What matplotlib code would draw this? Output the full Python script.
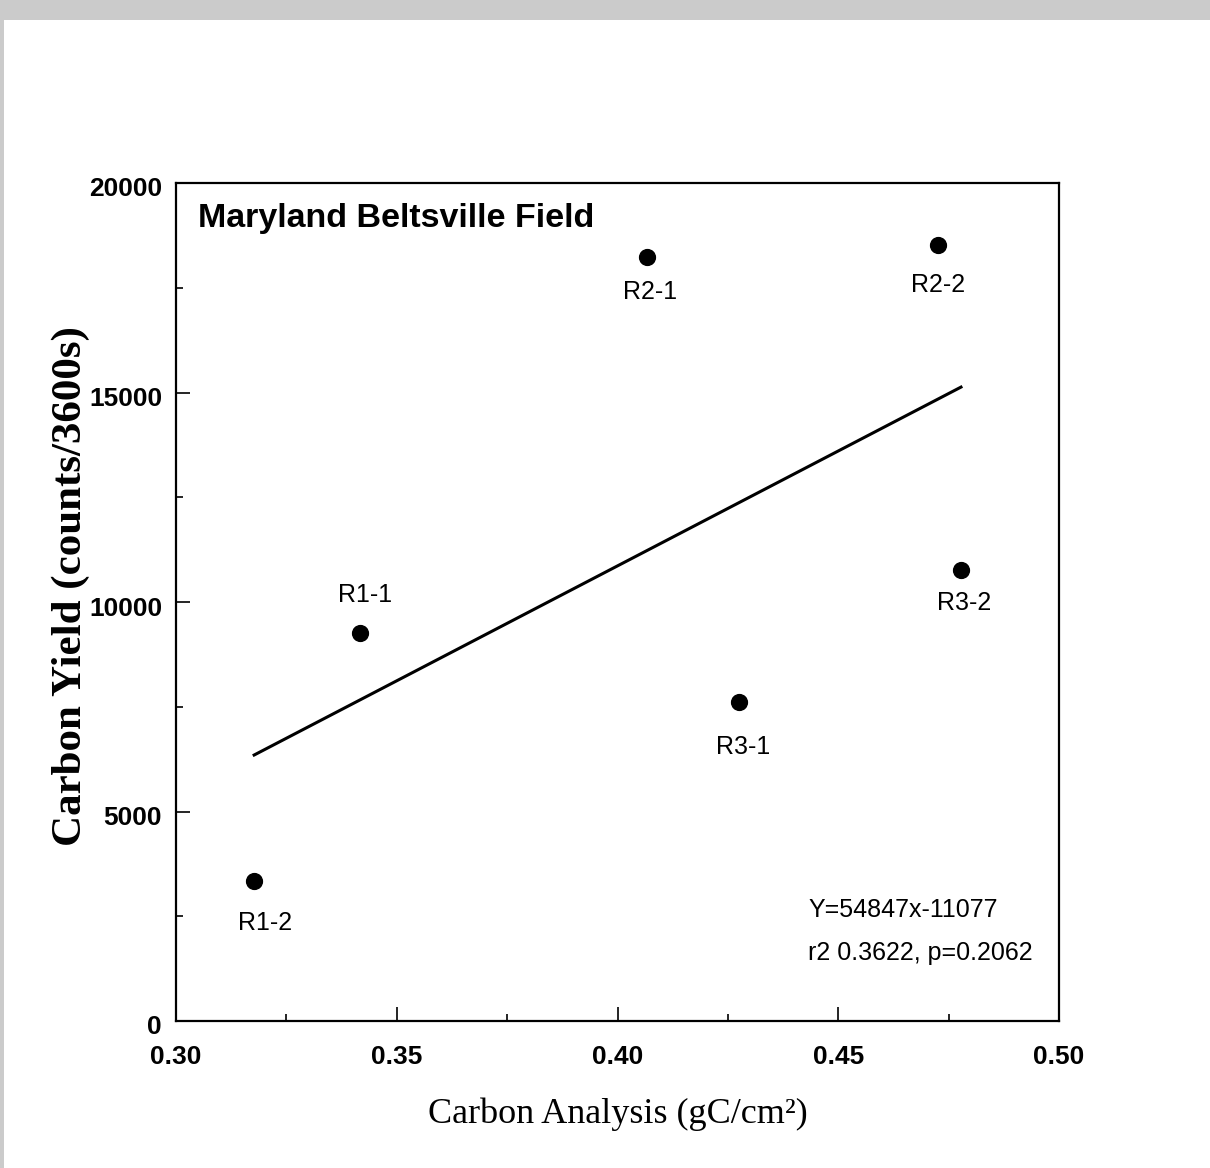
import matplotlib
matplotlib.use("Agg")
import matplotlib.pyplot as plt
import matplotlib.transforms as mtransforms
from matplotlib.patches import Rectangle
from matplotlib.ticker import MultipleLocator
import numpy as np

# ---- data ----
labels = ["R1-2", "R1-1", "R2-1", "R3-1", "R2-2", "R3-2"]
carbon_analysis = [0.3177, 0.3417, 0.4067, 0.4275, 0.4726, 0.4778]
carbon_yield = [3340, 9260, 18230, 7610, 18520, 10760]
slope = 54847
intercept = -11077
r2_text = "r2 0.3622, p=0.2062"
title = "Maryland Beltsville Field"
x_ticks = [0.30, 0.35, 0.40, 0.45, 0.50]
y_ticks = [0, 5000, 10000, 15000, 20000]

# label offsets in pixels (dx, dy downwards)
label_offsets = [(11, 42), (5, -38), (3, 35), (4, 45), (0, 40), (3, 33)]

W, H = 1210, 1168
fig = plt.figure(figsize=(W / 100, H / 100), dpi=100)
fig.patch.set_facecolor("white")
fig.patches.append(Rectangle((0, 1 - 20 / H), 1, 20 / H, transform=fig.transFigure,
                             facecolor="#cbcbcb", edgecolor="none", zorder=0))
fig.patches.append(Rectangle((0, 0), 4 / W, 1, transform=fig.transFigure,
                             facecolor="#cbcbcb", edgecolor="none", zorder=0))

ax = fig.add_axes([176 / W, 147 / H, (1059 - 176) / W, (1021 - 183) / H])

sans = ["Liberation Sans", "DejaVu Sans"]
serif = ["Liberation Serif", "DejaVu Serif"]

ax.scatter(carbon_analysis, carbon_yield, s=130, color="black", zorder=3)

xs = np.array([min(carbon_analysis), max(carbon_analysis)])
ax.plot(xs, slope * xs + intercept, color="black", lw=2.2, zorder=2)

for lab, x, y, (dx, dy) in zip(labels, carbon_analysis, carbon_yield, label_offsets):
    ax.annotate(lab, (x, y), xytext=(dx, -dy), textcoords="offset pixels",
                ha="center", va="center", fontsize=18, family=sans)

ax.set_xlim(0.30, 0.50)
ax.set_ylim(0, 20000)
ax.set_xticks(x_ticks)
ax.set_yticks(y_ticks)
ax.set_xticklabels([f"{t:.2f}" for t in x_ticks])
ax.set_yticklabels([str(t) for t in y_ticks])
ax.xaxis.set_minor_locator(MultipleLocator(0.025))
ax.yaxis.set_minor_locator(MultipleLocator(2500))
ax.tick_params(which="both", direction="in", top=False, right=False, width=1.2)
ax.tick_params(which="major", length=10)
ax.tick_params(which="minor", length=5)
ax.tick_params(axis="x", which="major", pad=17)
ax.tick_params(axis="y", which="major", pad=10)
shift_down = mtransforms.ScaledTranslation(0, -4 / 100, fig.dpi_scale_trans)
for t in ax.get_xticklabels() + ax.get_yticklabels():
    t.set_family(sans)
    t.set_fontweight("bold")
    t.set_fontsize(19)
for t in ax.get_yticklabels():
    t.set_transform(t.get_transform() + shift_down)
for s in ax.spines.values():
    s.set_linewidth(1.6)

ax.set_xlabel("Carbon Analysis (gC/cm²)", family=serif, fontsize=26, labelpad=21)
ax.set_ylabel("Carbon Yield (counts/3600s)", family=serif, fontsize=31,
              fontweight="bold")
ax.yaxis.set_label_coords(-0.097, 0.519)

ax.text(0.025, 0.958, title, transform=ax.transAxes, ha="left", va="center",
        fontsize=24.5, fontweight="bold", family=sans)
ax.text(0.716, 0.1325, f"Y={slope}x{intercept}", transform=ax.transAxes,
        ha="left", va="center", fontsize=18, family=sans)
ax.text(0.716, 0.081, r2_text, transform=ax.transAxes,
        ha="left", va="center", fontsize=18, family=sans)

fig.savefig("out.png", dpi=100)
